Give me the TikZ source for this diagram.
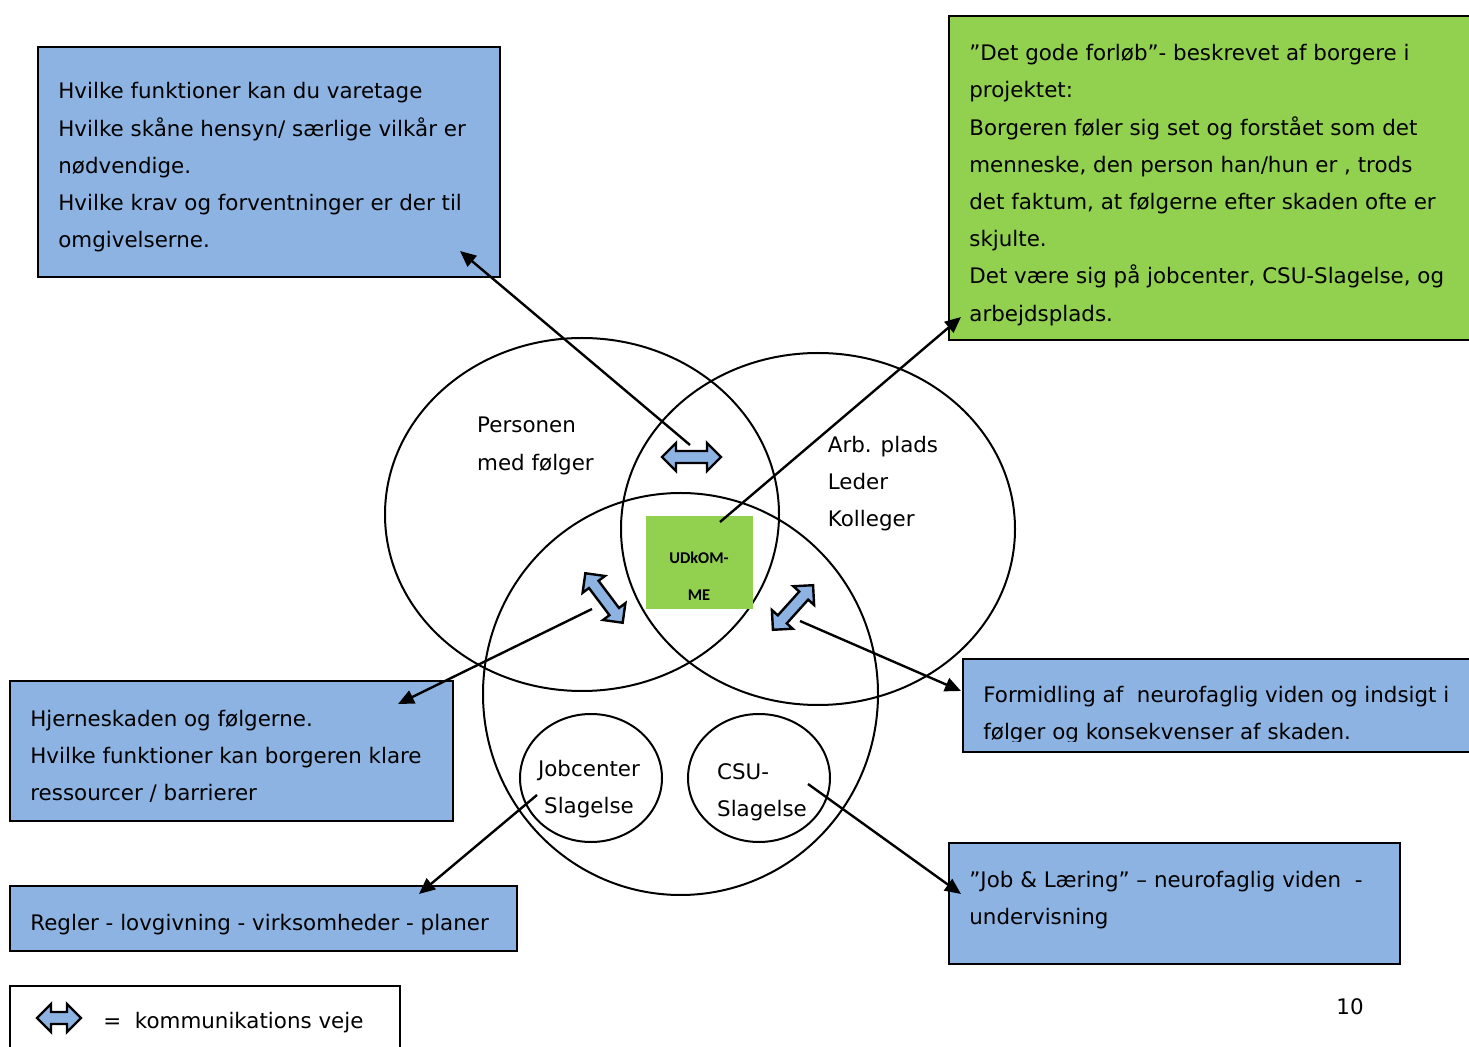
\documentclass[tikz,border=0pt]{standalone}
\usepackage{fontspec}
\setmainfont{DejaVu Sans}
\newfontfamily\calfont{Carlito}
\usetikzlibrary{arrows.meta,shapes.geometric}
\definecolor{boxblue}{RGB}{141,179,226}
\definecolor{boxgreen}{RGB}{146,208,80}
\begin{document}
\begin{tikzpicture}[x=0.5pt,y=-0.5pt,
  txt/.style={font=\fontsize{10.7pt}{18.6pt}\selectfont, align=left, inner sep=0pt},
  infobox/.style={draw=black, line width=1pt, anchor=north west, inner sep=0pt},
  venn/.style={ellipse, draw=black, line width=1pt, inner sep=0pt},
  conn/.style={line width=1.2pt, -{Triangle[length=8pt,width=7pt]}},
  pics/comm/.style={code={
    \draw[fill=boxblue, line width=1.2pt, line join=miter]
      (-#1,0) -- (-#1+14,14) -- (-#1+14,6) -- (#1-14,6) -- (#1-14,14) -- (#1,0)
      -- (#1-14,-14) -- (#1-14,-6) -- (-#1+14,-6) -- (-#1+14,-14) -- cycle;
  }},
]
\useasboundingbox (0,0) rectangle (1469,1047);
\fill[white] (0,0) rectangle (1469,1047);

% boxes
\node[infobox, fill=boxblue, minimum width=231pt, minimum height=115pt] (q1) at (37,46) {};
\node[infobox, fill=boxgreen, minimum width=270pt, minimum height=162pt] (good) at (948,15) {};
\node[infobox, fill=boxblue, minimum width=221.5pt, minimum height=70pt] (hj) at (9,680) {};
\node[infobox, fill=boxblue, minimum width=253.5pt, minimum height=32.5pt] (regler) at (9,885) {};
\node[infobox, fill=boxblue, minimum width=270pt, minimum height=46.5pt] (formid) at (962,658) {};
\node[infobox, fill=boxblue, minimum width=225.5pt, minimum height=60.5pt] (job) at (948,842) {};
\node[infobox, fill=white, minimum width=195pt, minimum height=50pt] (legend) at (9,985) {};

% venn ellipses
\node[venn, minimum width=197pt, minimum height=176.5pt] (person) at (582,514.5) {};
\node[venn, minimum width=197pt, minimum height=176pt] (arb) at (818,529) {};
\node[venn, minimum width=197.5pt, minimum height=201pt] (bund) at (680.5,694) {};
\node[venn, minimum width=71pt, minimum height=64pt] (jobc) at (591,778) {};
\node[venn, minimum width=71pt, minimum height=64pt] (csu) at (759,778) {};

% centre square
\node[fill=boxgreen, inner sep=0pt, minimum width=53.5pt, minimum height=46.5pt] (udk) at (699.5,562.5) {};
\node[font=\calfont\bfseries\fontsize{8.2pt}{18.5pt}\selectfont, align=center, inner sep=0pt] (udkt) at (699,576) {UDkOM-\\ME};

% connector coordinates
\coordinate (s1) at (690,445);  \coordinate (t1) at (460,251);
\coordinate (s2) at (720,522);  \coordinate (t2) at (961,317);
\coordinate (s3) at (592,609);  \coordinate (t3) at (398,704);
\coordinate (s4) at (800,621);  \coordinate (t4) at (961,691);
\coordinate (s5) at (537,795);  \coordinate (t5) at (419,894);
\coordinate (s6) at (808,784);  \coordinate (t6) at (961,894);
\draw[conn] (s1) -- (t1);
\draw[conn] (s2) -- (t2);
\draw[conn] (s3) -- (t3);
\draw[conn] (s4) -- (t4);
\draw[conn] (s5) -- (t5);
\draw[conn] (s6) -- (t6);

% communication arrows
\pic (c1) at (691.5,457) {comm=29.5};
\pic[rotate=-53] (c2) at (604,598) {comm=31};
\pic[rotate=48] (c3) at (793,607.5) {comm=30};
\pic (c4) at (59,1018) {comm=22};

% texts
\node[txt, anchor=west] (q1t) at (58,167.5) {Hvilke funktioner kan du varetage\\Hvilke skåne hensyn/ særlige vilkår er\\nødvendige.\\Hvilke krav og forventninger er der til\\omgivelserne.};
\node[txt, anchor=west] (goodt) at (969,185) {”Det gode forløb”- beskrevet af borgere i\\projektet:\\Borgeren føler sig set og forstået som det\\menneske, den person han/hun er , trods\\det faktum, at følgerne efter skaden ofte er\\skjulte.\\Det være sig på jobcenter, CSU-Slagelse, og\\arbejdsplads.};
\node[txt, anchor=west] (hjt) at (30,756.5) {Hjerneskaden og følgerne.\\Hvilke funktioner kan borgeren klare\\ressourcer / barrierer};
\node[txt, anchor=west] (reglert) at (30,924.5) {Regler - lovgivning - virksomheder - planer};
\begin{scope}
\clip (963,659) rectangle (1469,742);
\node[txt, anchor=west] (formidt) at (983,715) {Formidling af\ \ neurofaglig viden og indsigt i\\følger og konsekvenser af skaden.};
\end{scope}
\node[txt, anchor=west] (jobt) at (969,900) {”Job \& Læring” – neurofaglig viden\ \ -\\undervisning};
\node[txt, anchor=west] (legendt) at (103,1023) {=\ \ kommunikations veje};
\node[txt] (page) at (1350,1007) {10};

\node[txt] (persont) at (535.5,446) {Personen\\med følger};
\node[txt] (arbt) at (883,483.5) {Arb. plads\\Leder\\Kolleger};
\node[txt, align=center] (jobct) at (589,789) {Jobcenter\\Slagelse};
\node[txt] (csut) at (762,792) {CSU-\\Slagelse};
\end{tikzpicture}
\end{document}
